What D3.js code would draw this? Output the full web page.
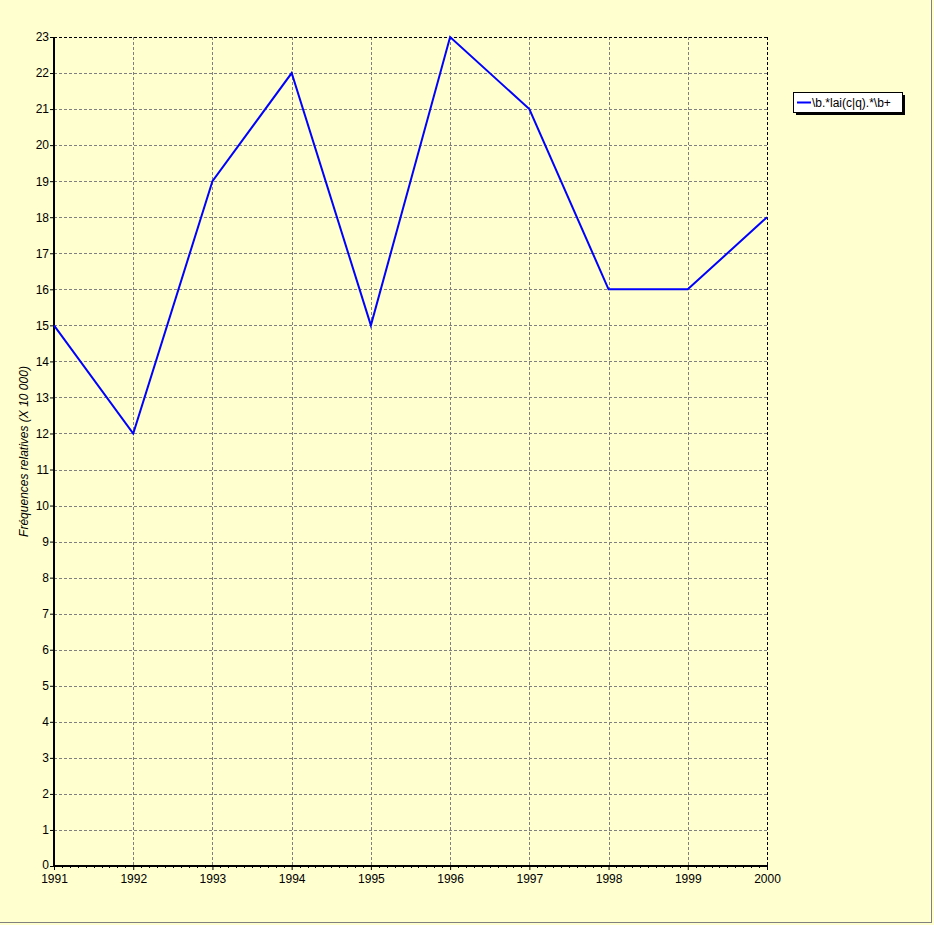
<!DOCTYPE html>
<html><head><meta charset="utf-8">
<script src="https://cdn.jsdelivr.net/npm/d3@7"></script>
<style>
html,body{margin:0;padding:0;background:#FFFFD0;}
svg{display:block;}
text{font-family:"Liberation Sans",Arial,sans-serif;font-size:12px;fill:#000;}
</style></head><body>
<svg id="c" width="934" height="925"></svg>
<script>
const years = [1991,1992,1993,1994,1995,1996,1997,1998,1999,2000];
const values = [15,12,19,22,15,23,21,16,16,18];
const yTicks = d3.range(0,24);
const seriesName = "\\b.*lai(c|q).*\\b+";
const yLabel = "Fréquences relatives (X 10 000)";

const svg = d3.select("#c");
const bg = "#FFFFD0";
svg.append("rect").attr("x",0).attr("y",0).attr("width",934).attr("height",925).attr("fill",bg);
svg.append("line").attr("x1",931.5).attr("x2",931.5).attr("y1",0).attr("y2",923).attr("stroke","#808080");
svg.append("line").attr("x1",0).attr("x2",932).attr("y1",922.5).attr("y2",922.5).attr("stroke","#808080");

const L=54, R=767, T=37, B=866;
const x = d3.scaleLinear().domain([1991,2000]).range([L,R]);
const y = d3.scaleLinear().domain([0,23]).range([B,T]);

const g = svg.append("g");
g.selectAll(".hg").data(yTicks.filter(d=>d>0)).join("line")
 .attr("x1",L).attr("x2",R).attr("y1",d=>Math.round(y(d))+0.5).attr("y2",d=>Math.round(y(d))+0.5)
 .attr("stroke","#808080").attr("stroke-dasharray","3,2");
g.selectAll(".vg").data(years.slice(1)).join("line")
 .attr("x1",d=>Math.round(x(d))+0.5).attr("x2",d=>Math.round(x(d))+0.5).attr("y1",T).attr("y2",B)
 .attr("stroke","#808080").attr("stroke-dasharray","3,2");
svg.append("line").attr("x1",L).attr("x2",R).attr("y1",T+0.5).attr("y2",T+0.5).attr("stroke","#000").attr("stroke-dasharray","3,2");
svg.append("line").attr("x1",R+0.5).attr("x2",R+0.5).attr("y1",T).attr("y2",B).attr("stroke","#000").attr("stroke-dasharray","3,2");

const yAxis = d3.axisLeft(y).tickValues(yTicks).tickSize(4).tickFormat(d3.format("d"));
const ya = svg.append("g").attr("transform",`translate(${L},0)`).call(yAxis);
ya.select(".domain").remove();
ya.selectAll("line").attr("stroke","#000");
ya.selectAll("text").attr("x",-5).style("font-size","12px").style("font-family","Liberation Sans, Arial, sans-serif");
ya.selectAll("text").filter(d=>d===0).attr("dy","0.2em");

const minor = [];
for(let i=0;i<years.length-1;i++) for(let k=1;k<10;k++) minor.push(years[i]+k/10);
svg.append("g").selectAll("line").data(minor).join("line")
 .attr("x1",d=>Math.round(x(d))+0.5).attr("x2",d=>Math.round(x(d))+0.5).attr("y1",B).attr("y2",B+2)
 .attr("stroke","#000");

const xAxis = d3.axisBottom(x).tickValues(years).tickSize(4).tickFormat(d3.format("d"));
const xa = svg.append("g").attr("transform",`translate(0,${B})`).call(xAxis);
xa.select(".domain").remove();
xa.selectAll("text").attr("y",8).style("font-size","12px").style("font-family","Liberation Sans, Arial, sans-serif");

svg.append("line").attr("x1",L).attr("x2",L).attr("y1",T).attr("y2",B+1).attr("stroke","#000").attr("stroke-width",2);
svg.append("line").attr("x1",L-1).attr("x2",R+1).attr("y1",B).attr("y2",B).attr("stroke","#000").attr("stroke-width",2);

const line = d3.line().x((d,i)=>x(years[i])).y(d=>y(d));
svg.append("path").datum(values).attr("d",line).attr("fill","none").attr("stroke","#0000FF").attr("stroke-width",2);

svg.append("text").attr("transform",`translate(28,${(T+B)/2}) rotate(-90)`).attr("text-anchor","middle")
 .style("font-style","italic").text(yLabel);

const lx=793, ly=92, lw=109, lh=20;
svg.append("rect").attr("x",lx+3).attr("y",ly+3).attr("width",lw).attr("height",lh).attr("fill","#000");
svg.append("rect").attr("x",lx+0.5).attr("y",ly+0.5).attr("width",lw).attr("height",lh).attr("fill","#fff").attr("stroke","#000");
svg.append("line").attr("x1",lx+4).attr("x2",lx+18).attr("y1",ly+10.5).attr("y2",ly+10.5).attr("stroke","#0000FF").attr("stroke-width",2);
svg.append("text").attr("x",lx+19).attr("y",ly+15).text(seriesName);
</script>
</body></html>
